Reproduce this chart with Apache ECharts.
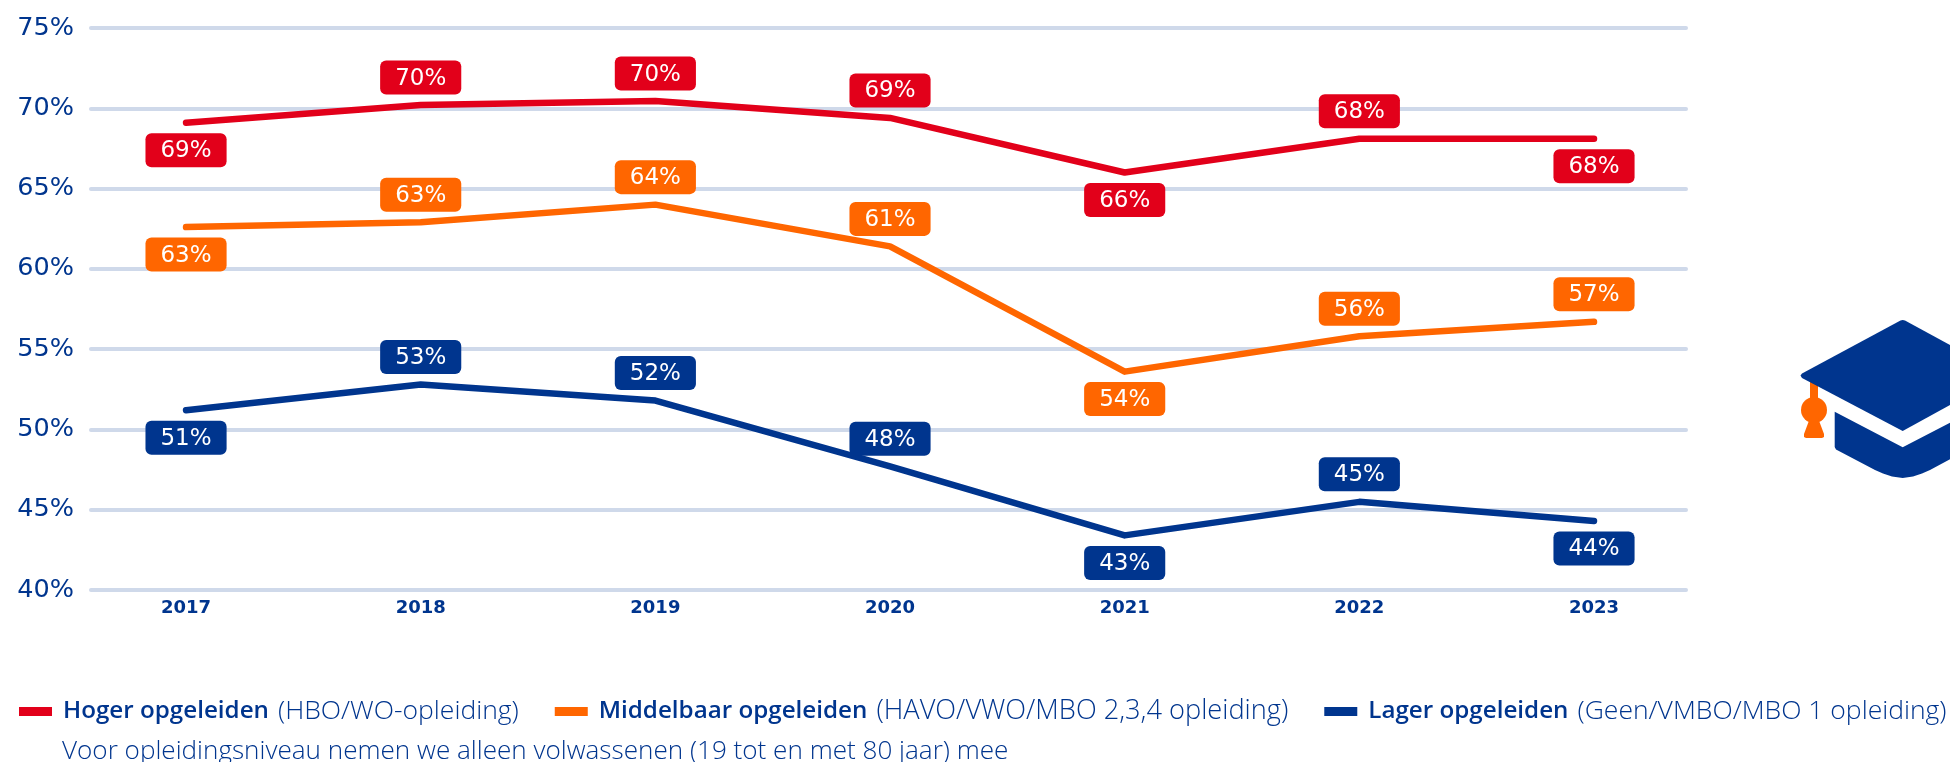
<!DOCTYPE html>
<html><head><meta charset="utf-8">
<style>html,body{margin:0;padding:0;background:#fff;overflow:hidden}#c{width:1950px;height:762px}</style>
<script src="https://cdn.jsdelivr.net/npm/echarts@6/dist/echarts.min.js"></script>
</head><body><div id="c"></div>
<script>
const years=[2017,2018,2019,2020,2021,2022,2023];
const hoger=[69.1,70.2,70.45,69.4,66.0,68.1,68.1];
const middelbaar=[62.6,62.9,64.0,61.4,53.6,55.8,56.7];
const lager=[51.2,52.8,51.8,47.7,43.4,45.49,44.3];
const hogerLabelPos=['bottom','top','top','top','bottom','top','bottom'];
const middelbaarLabelPos=['bottom','top','top','top','bottom','top','top'];
const lagerLabelPos=['bottom','top','top','top','bottom','top','bottom'];
const names=['Hoger opgeleiden','Middelbaar opgeleiden','Lager opgeleiden'];
const notes=['(HBO/WO-opleiding)','(HAVO/VWO/MBO 2,3,4 opleiding)','(Geen/VMBO/MBO 1 opleiding)'];
const footnote='Voor opleidingsniveau nemen we alleen volwassenen (19 tot en met 80 jaar) mee';
const RED='#e2001a',ORANGE='#ff6600',NAVY='#00358e',GRID='#cfd9ea';
const LEGEND_FONT='"Open Sans"';
function mk(name,vals,pos,color){
  return {name,type:'line',symbol:'circle',symbolSize:1,showSymbol:true,z:3,lineStyle:{color,width:6.5,cap:'round',join:'round'},itemStyle:{color},
    data:vals.map((v,i)=>({value:[years[i],v],label:{show:true,position:pos[i]}})),
    label:{show:true,distance:10,formatter:p=>Math.round(p.value[1])+'%',color:'#fff',fontFamily:'DejaVu Sans',fontSize:23,
      backgroundColor:color,borderRadius:6,padding:[6,15,4,15],lineHeight:24},
    animation:false};
}
const chart=echarts.init(document.getElementById('c'),null,{renderer:'canvas'});
chart.setOption({
  animation:false,
  backgroundColor:'#fff',
  grid:{left:91,top:28,width:1595,height:562,containLabel:false},
  xAxis:{type:'value',min:2016.595,max:2023.392,
    axisLine:{show:false},axisTick:{show:false},splitLine:{show:false},
    axisLabel:{customValues:years,formatter:v=>String(v),color:NAVY,fontFamily:'DejaVu Sans',fontWeight:'bold',fontSize:18,margin:9}},
  yAxis:{type:'value',min:40,max:75,interval:5,
    axisLine:{show:false},axisTick:{show:false},
    splitLine:{show:true,lineStyle:{color:GRID,width:4,cap:'round'}},
    axisLabel:{formatter:'{value}%',color:NAVY,fontFamily:'DejaVu Sans',fontSize:25.5,margin:17}},
  legend:{left:19,top:698,padding:0,itemGap:36,itemWidth:33,itemHeight:9,icon:'rect',selectedMode:false,
    data:names,
    formatter:n=>{const i=names.indexOf(n);return '{b|'+n+'}{'+(i===1?'m':'n')+'|'+notes[i]+'}';},
    textStyle:{rich:{
      b:{fontFamily:LEGEND_FONT,fontWeight:600,fontSize:24.2,color:NAVY,padding:[0,0,0,6]},
      n:{fontFamily:LEGEND_FONT,fontWeight:300,fontSize:26.5,color:NAVY,padding:[0,0,0,9]},
      m:{fontFamily:LEGEND_FONT,fontWeight:300,fontSize:27.2,color:NAVY,padding:[0,0,0,9]}}}},
  graphic:[
    {type:'text',left:62,top:739,style:{text:footnote,fill:NAVY,fontFamily:LEGEND_FONT,fontWeight:300,fontSize:26.1}},
    {type:'rect',silent:true,shape:{x:1810,y:380,width:8,height:30},style:{fill:ORANGE}},
    {type:'circle',silent:true,shape:{cx:1814,cy:410,r:13},style:{fill:ORANGE}},
    {type:'polygon',silent:true,shape:{points:[[1810,418],[1818,418],[1824,434],[1824,437],[1822,438],[1806,438],[1804,437],[1804,434]]},style:{fill:ORANGE}},
    {type:'polygon',silent:true,shape:{points:[[1900.5,320.5],[1902.7,320],[1905,320.5],[2005,375],[1902.7,431],[1802,378],[1800.5,375.5],[1802,373.5]]},style:{fill:NAVY}},
    {type:'polygon',silent:true,shape:{points:[[1834.7,411.7],[1902.7,447.3],[1971,411.7],[1971,448],[1930,470],[1922,473.5],[1913,476.5],[1902.7,478],[1892,476.5],[1883,473.5],[1875,470],[1836,449.5],[1834.7,447]]},style:{fill:NAVY}}
  ],
  series:[mk(names[0],hoger,hogerLabelPos,RED),mk(names[1],middelbaar,middelbaarLabelPos,ORANGE),mk(names[2],lager,lagerLabelPos,NAVY)]
});
</script></body></html>
